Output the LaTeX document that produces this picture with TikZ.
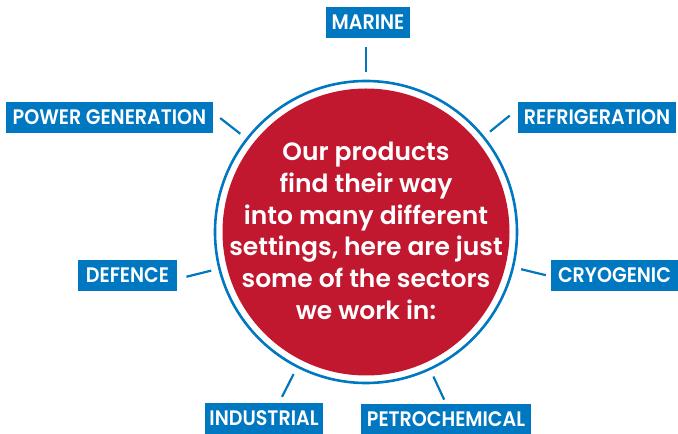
\documentclass[tikz,border=0pt]{standalone}
\usepackage{fontspec}
\usetikzlibrary{calc}
\setmainfont{Poppins}
\newfontfamily\labfont{Poppins SemiBold}[FakeStretch=0.91]
\newfontfamily\ctrfont{Poppins SemiBold}
\definecolor{secblue}{HTML}{0077C1}
\definecolor{secred}{HTML}{C1172F}
\tikzset{
  sector/.style={fill=secblue, text=white, font=\labfont\fontsize{21}{21}\selectfont,
    minimum height=31pt, inner xsep=0pt, inner ysep=0pt, anchor=center},
  tick/.style={draw=secblue, line width=2.2pt},
  ring/.style={draw=secblue, line width=2.6pt},
}
\begin{document}
\begin{tikzpicture}[x=1pt,y=1pt]
\useasboundingbox (0,0) rectangle (678,434);
\coordinate (c) at (366,202);
\node[circle, fill=secred, minimum size=287pt, inner sep=0pt] (core) at (c) {};
\node[circle, ring, minimum size=302pt, inner sep=0pt] (rim) at (c) {};
\node[text=white, align=center, font=\ctrfont\fontsize{25}{31.7}\selectfont] (msg) at (366,203)
  {Our products\\find their way\\into many different\\settings, here are just\\some of the sectors\\we work in:};
\node[sector, minimum width=84pt] (marine) at (368,411.5) {MARINE};
\node[sector, minimum width=207pt] (power) at (109.5,316.5) {POWER GENERATION};
\node[sector, minimum width=158pt] (refrig) at (597,316.5) {REFRIGERATION};
\node[sector, minimum width=99pt] (defence) at (127.5,158.5) {DEFENCE};
\node[sector, minimum width=127pt] (cryo) at (614.5,158.5) {CRYOGENIC};
\node[sector, minimum width=118pt] (indus) at (264,15.5) {INDUSTRIAL};
\node[sector, minimum width=170pt, minimum height=30pt] (petro) at (446,15) {PETROCHEMICAL};
\foreach \n/\a in {marine/90, power/142, refrig/39, defence/194, cryo/-13.5, indus/243, petro/-65}{
  \coordinate (\n-in) at ($(c)+(\a:159.5)$);
  \coordinate (\n-out) at ($(c)+(\a:185)$);
  \draw[tick] (\n-in) -- (\n-out);
}
\end{tikzpicture}
\end{document}
